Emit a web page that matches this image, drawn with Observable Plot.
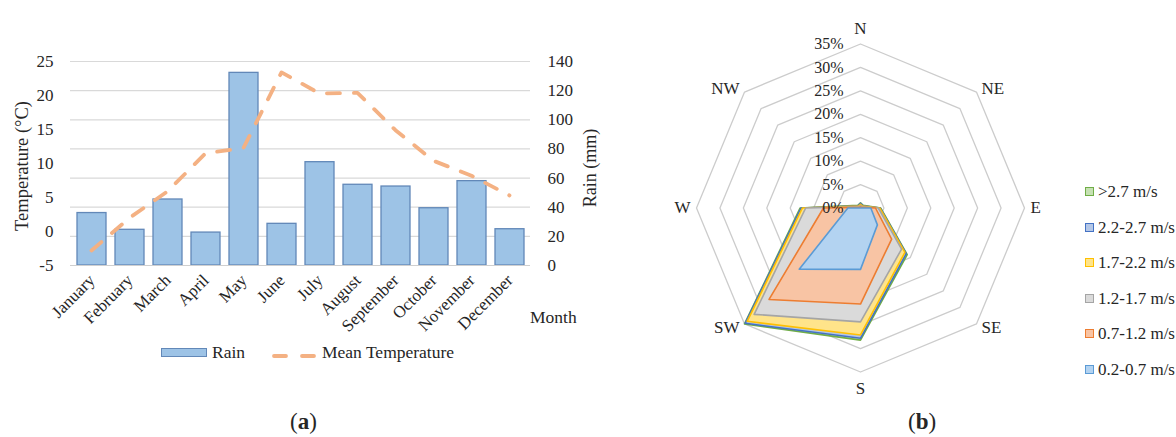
<!DOCTYPE html>
<html><head><meta charset="utf-8">
<script src="https://cdn.jsdelivr.net/npm/d3@7"></script>
<script src="https://cdn.jsdelivr.net/npm/@observablehq/plot@0.6"></script>
<style>
html,body{margin:0;padding:0;background:#fff;}
#root{position:relative;width:1176px;height:437px;overflow:hidden;font-family:"Liberation Serif","Times New Roman",serif;color:#262626;}
.lay{position:absolute;left:0;top:0;}
.lbl{position:absolute;font-size:17px;line-height:17px;white-space:nowrap;}
.rot{transform:translate(-50%,-50%) rotate(-90deg);}
.sw{position:absolute;width:7px;height:7px;border:1.5px solid;}
</style></head><body><div id="root"></div>
<script>
// ---------- data: panel (a) ----------
const months = ["January","February","March","April","May","June","July","August","September","October","November","December"];
const rainMm = [36, 24.5, 45.3, 22.6, 132.2, 28.6, 70.9, 55.4, 54.2, 39.3, 57.9, 24.9];
const meanTemp = [-2.8, 2.0, 5.9, 11.5, 12.3, 23.4, 20.3, 20.4, 14.9, 10.4, 8.2, 5.3];
const tempTicks = [-5, 0, 5, 10, 15, 20, 25];
const rainTicks = [0, 20, 40, 60, 80, 100, 120, 140];

// ---------- data: panel (b) ----------
const directions = ["N","NE","E","SE","S","SW","W","NW"];
const ringTicks = [0, 5, 10, 15, 20, 25, 30, 35];
const windClasses = [">2.7 m/s","2.2-2.7 m/s","1.7-2.2 m/s","1.2-1.7 m/s","0.7-1.2 m/s","0.2-0.7 m/s"];
// cumulative frequency (%) per direction N, NE, E, SE, S, SW, W, NW
const windGt27   = [1.1, 0.8, 4.3, 14.1, 28.2, 35.0, 12.9, 0.8];
const wind22_27  = [1.0, 0.7, 4.2, 13.8, 27.8, 34.8, 12.7, 0.7];
const wind17_22  = [0.8, 0.6, 4.1, 13.4, 27.1, 34.2, 12.4, 0.6];
const wind12_17  = [0.5, 0.4, 3.8, 12.4, 24.3, 32.1, 11.7, 0.4];
const wind07_12  = [0.2, 0.2, 3.2, 9.4, 20.5, 27.6, 7.9, 0.2];
const wind02_07  = [0, 0, 2.2, 5.1, 13.1, 18.5, 2.7, 0];
const windSeries = [windGt27, wind22_27, wind17_22, wind12_17, wind07_12, wind02_07];
const windStroke = ["#70ad47","#4472c4","#ffc000","#a5a5a5","#ed7d31","#5b9bd5"];
const windFill   = ["#c6e1b3","#b4c7e7","#ffe48a","#dadada","#f8c4a4","#b3d3f1"];

const root = document.getElementById("root");
const FONT = "'Liberation Serif', 'Times New Roman', serif";
function place(node, left, top){ const d=document.createElement("div"); d.className="lay"; d.style.left=left+"px"; d.style.top=top+"px"; d.appendChild(node); root.appendChild(d); return d; }
function label(text, left, top, cls, extra){ const d=document.createElement("div"); d.className="lbl"+(cls?" "+cls:""); d.style.left=left+"px"; d.style.top=top+"px"; d.innerHTML=text; if(extra) Object.assign(d.style, extra); root.appendChild(d); return d; }

// ---------- panel (a) ----------
const rows = months.map((m,i)=>({month:m, rain:rainMm[i], temp:meanTemp[i]}));
const common = {width:610, height:360, marginLeft:70, marginRight:80, marginTop:61, marginBottom:95,
  style:{fontFamily:FONT, fontSize:"17px", color:"#262626", background:"transparent", overflow:"visible"}};

const barsPlot = Plot.plot({...common,
  x:{type:"band", domain:months, paddingInner:0.25, paddingOuter:0.125},
  y:{domain:[0,140]},
  marks:[
    Plot.gridY(rainTicks, {stroke:"#d9d9d9", strokeOpacity:1, strokeWidth:1.2}),
    Plot.barY(rows, {x:"month", y:"rain", fill:"#9dc3e6", stroke:"#6288b8", strokeWidth:1.3}),
    Plot.ruleY([0], {stroke:"#cfcfcf", strokeWidth:1.2}),
    Plot.axisY(rainTicks, {anchor:"right", tickSize:0, tickPadding:17, label:null, fontSize:17, fill:"#262626", tickFormat:d=>String(d)}),
    Plot.axisX({tickRotate:-45, tickSize:0, tickPadding:12, label:null, fontSize:17, fill:"#262626"})
  ]});
place(barsPlot, 0, 0);

const linePlot = Plot.plot({...common,
  x:{type:"point", domain:months, padding:0.5, axis:null},
  y:{domain:[-5,25]},
  marks:[
    Plot.lineY(rows, {x:"month", y:"temp", stroke:"#f4b183", strokeWidth:3.8, strokeDasharray:"13,14", strokeLinecap:"round"}),
    Plot.axisY(tempTicks, {anchor:"left", tickSize:0, tickPadding:17, label:null, fontSize:17, fill:"#262626", tickFormat:d=>String(d)})
  ]});
place(linePlot, 0, 0);

label("Temperature (°C)", 22, 166, "rot", {fontSize:"18.5px", lineHeight:"19px"});
label("Rain (mm)", 590, 168, "rot", {fontSize:"18px", lineHeight:"18px"});
label("Month", 530, 309, null, {fontSize:"17.5px"});
// legend (a)
const swA = document.createElement("div");
Object.assign(swA.style,{position:"absolute",left:"161px",top:"348px",width:"44px",height:"7px",background:"#9dc3e6",border:"1px solid #6288b8"});
root.appendChild(swA);
label("Rain", 212, 344, null, {fontSize:"17.5px"});
const dashSvg = document.createElementNS("http://www.w3.org/2000/svg","svg");
dashSvg.setAttribute("width","60"); dashSvg.setAttribute("height","10");
dashSvg.innerHTML = '<line x1="2" y1="5" x2="46" y2="5" stroke="#f4b183" stroke-width="3.8" stroke-linecap="round" stroke-dasharray="12,16"/>';
place(dashSvg, 272, 347);
label("Mean Temperature", 322, 344, null, {fontSize:"17.5px"});
label("(<b>a</b>)", 290, 410, null, {fontSize:"23px", lineHeight:"23px"});

// ---------- panel (b) ----------
const PX = 164/35; // px per percent
const toXY = (r,i)=>({x: r*Math.sin(i*Math.PI/4), y: r*Math.cos(i*Math.PI/4)});
const ringPts = ringTicks.filter(r=>r>0).flatMap(r=>directions.map((d,i)=>({ring:r, ...toXY(r,i)})));
const seriesMarks = windSeries.map((vals,k)=>Plot.line(vals.map((v,i)=>toXY(v,i)),
  {x:"x", y:"y", curve:"linear-closed", fill:windFill[k], stroke:windStroke[k], strokeWidth:1.6, strokeLinejoin:"round"}));
// direction label placement: just outside the outer ring vertex
const outer = 35;
function dirPos(i){
  const v = toXY(outer,i);
  const sx = Math.sign(Math.round(v.x*1000)), sy = Math.sign(Math.round(v.y*1000));
  if (sx===0) return {x:v.x, y:v.y + sy*(sy>0?15.5:16.5)/PX};
  if (sy===0) return {x:v.x + sx*6/PX, y:v.y};
  return {x:v.x + sx*5/PX, y:v.y + sy*3.5/PX};
}
const dirIdx = directions.map((d,i)=>i);
const center = dirIdx.filter(i=>Math.abs(toXY(1,i).x)<1e-6);
const leftSide = dirIdx.filter(i=>toXY(1,i).x< -1e-6);
const rightSide = dirIdx.filter(i=>toXY(1,i).x> 1e-6);
const dirText = (idx, anchor)=>Plot.text(idx, {x:i=>dirPos(i).x, y:i=>dirPos(i).y, text:i=>directions[i], textAnchor:anchor, fontSize:17, fill:"#262626"});

const radar = Plot.plot({width:400, height:437, marginLeft:36, marginRight:36, marginTop:43.5, marginBottom:65.5,
  style:{fontFamily:FONT, fontSize:"17px", color:"#262626", background:"transparent", overflow:"visible"},
  x:{domain:[-35,35], axis:null}, y:{domain:[-35,35], axis:null},
  marks:[
    Plot.line(ringPts, {x:"x", y:"y", z:"ring", curve:"linear-closed", stroke:"#cccccc", strokeWidth:1.3}),
    ...seriesMarks,
    Plot.text(ringTicks, {x:d=>0, y:d=>d, text:d=>d+"%", textAnchor:"end", dx:-17, fontSize:16, fill:"#262626"}),
    dirText(center, "middle"), dirText(leftSide, "end"), dirText(rightSide, "start")
  ]});
place(radar, 660, 0);

// legend (b)
const legY = [192, 228, 263, 299, 334, 370];
windClasses.forEach((c,k)=>{
  const s=document.createElement("div"); s.className="sw";
  s.style.left="1085px"; s.style.top=(legY[k]-5)+"px"; s.style.borderColor=windStroke[k]; s.style.background=windFill[k];
  root.appendChild(s);
  label(c, 1098, legY[k]-9);
});
label("(<b>b</b>)", 908, 410, null, {fontSize:"23px", lineHeight:"23px"});
</script></body></html>
